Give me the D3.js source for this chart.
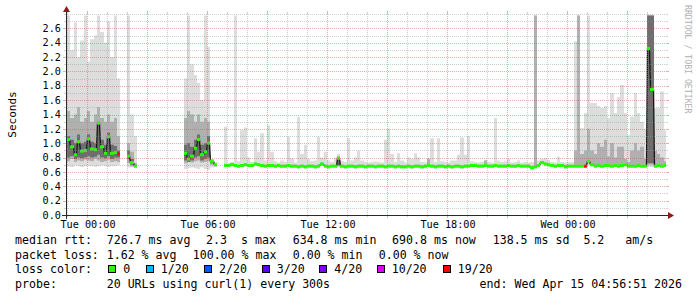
<!DOCTYPE html>
<html><head><meta charset="utf-8">
<script src="https://cdn.jsdelivr.net/npm/d3@7"></script>
<style>
html,body{margin:0;padding:0;background:#fff;}
svg{display:block;}
text{font-family:"DejaVu Sans Mono",monospace;fill:#000;}
</style>
</head><body>
<svg id="c" width="697" height="297"></svg>
<script>
// ---- time buckets: 10-minute steps starting Mon 2026-04-13 23:00 ----
const firstBucket = new Date(2026, 3, 13, 23, 0, 0);
const stepMinutes = 10;
const graphStart = new Date(2026, 3, 13, 22, 56, 51);
const graphEnd = new Date(2026, 3, 15, 4, 56, 51);

// median rtt (seconds), null = no data
const med = [
1.05,0.95,0.84,1.02,0.89,0.90,1.06,0.92,0.91,1.28,
0.95,0.86,1.09,0.86,0.87,0.85,null,null,0.82,0.73,
0.68,null,null,null,null,null,null,null,null,null,
null,null,null,null,null,0.86,0.78,0.82,0.93,1.05,
0.84,0.88,1.00,0.75,0.70,null,null,0.69,0.69,0.70,
0.69,0.68,0.69,0.70,0.69,0.69,0.71,0.70,0.69,0.68,
0.69,0.69,0.68,0.69,0.68,0.68,0.69,0.68,0.68,0.67,
0.68,0.67,0.68,0.68,0.67,0.68,0.71,0.68,0.67,0.68,
0.68,0.79,0.68,0.67,0.68,0.68,0.67,0.68,0.68,0.67,
0.68,0.68,0.67,0.68,0.68,0.67,0.68,0.68,0.67,0.68,
0.67,0.67,0.68,0.67,0.68,0.68,0.67,0.68,0.69,0.68,
0.67,0.68,0.68,0.67,0.68,0.67,0.68,0.68,0.67,0.68,
0.68,0.69,0.69,0.68,0.68,0.69,0.68,0.68,0.69,0.68,
0.68,0.68,0.69,0.68,0.68,0.69,0.68,0.68,0.68,0.66,
0.67,0.69,0.73,0.71,0.70,0.69,0.68,0.69,0.69,0.67,
0.68,0.68,0.68,0.68,0.68,0.68,0.75,0.70,0.68,0.69,
0.68,0.69,0.69,0.68,0.69,0.68,0.69,0.70,0.68,0.68,
0.68,0.69,0.68,0.68,2.32,1.75,0.68,0.69,0.68,0.69];

// lost pings out of 20
const loss = [
0,0,0,0,0,0,0,0,0,0, 0,0,0,0,0,19,0,0,0,0,
0,0,0,0,0,0,0,0,0,0, 0,0,0,0,0,0,0,0,0,0,
0,0,0,0,0,0,0,0,0,0, 0,0,0,0,0,0,0,0,0,0,
0,0,0,0,0,0,0,0,0,0, 0,0,0,0,0,0,0,0,0,0,
0,0,0,0,0,0,0,0,0,0, 0,0,0,0,0,0,0,0,0,0,
0,0,0,0,0,0,0,0,0,0, 0,0,0,0,0,0,0,0,0,0,
0,0,0,0,0,0,0,0,0,0, 0,0,0,0,0,0,0,0,0,0,
0,0,0,0,0,0,0,0,0,0, 0,0,0,0,0,19,0,0,0,0,
0,0,0,0,0,0,0,0,0,0, 0,0,0,0,0,0,0,0,0,0];

// highest ping (outer smoke top)
const hi = [
2.78,2.30,2.68,2.20,2.43,2.78,2.14,2.45,2.50,2.78,
2.55,2.40,2.70,2.20,2.78,1.90,null,null,2.78,1.40,
1.10,null,null,null,null,null,null,null,null,null,
null,null,null,null,null,1.90,2.78,2.10,1.95,1.84,
1.60,2.78,2.34,0.78,0.73,null,null,1.23,0.72,0.74,
2.78,0.75,1.18,1.22,0.80,0.74,1.07,0.88,1.14,0.76,
1.25,0.88,0.75,0.73,0.76,0.74,1.09,0.79,0.73,1.37,
0.85,0.98,0.78,0.75,0.76,1.09,0.80,0.88,0.76,0.74,
0.80,0.85,0.75,0.74,1.07,0.76,0.80,0.90,0.76,0.74,
0.73,0.74,0.75,0.74,0.73,1.05,1.20,0.85,0.74,0.86,
0.76,0.73,0.80,0.78,0.86,0.80,0.74,0.73,0.79,1.07,
0.74,1.07,0.75,0.74,0.73,0.76,0.76,0.84,1.08,0.84,
1.10,0.75,0.74,0.73,0.74,0.77,0.74,0.73,1.35,0.76,
0.74,0.75,0.78,0.73,0.74,0.76,0.73,0.74,0.73,0.74,
2.78,0.76,0.78,0.79,0.77,0.74,0.73,0.81,0.74,0.73,
0.74,0.74,2.42,2.78,1.21,1.42,2.78,1.56,1.56,1.52,
1.49,1.52,1.35,1.70,1.42,1.64,1.81,1.42,1.11,1.37,
1.70,1.42,1.30,1.20,2.78,2.78,1.49,1.49,1.72,1.18];

// upper middle ping
const up = [
1.45,1.35,1.40,1.50,1.30,1.35,1.45,1.30,1.40,1.50,
1.35,1.30,1.40,1.30,1.35,1.10,null,null,1.00,0.88,
0.72,null,null,null,null,null,null,null,null,null,
null,null,null,null,null,1.35,1.45,1.40,1.30,1.40,
1.30,1.35,1.30,0.74,0.71,null,null,0.71,0.71,0.72,
0.71,0.70,0.71,0.72,0.71,0.71,0.73,0.72,0.71,0.70,
0.71,0.71,0.70,0.71,0.70,0.70,0.71,0.70,0.70,0.69,
0.70,0.69,0.70,0.70,0.69,0.70,0.73,0.70,0.69,0.70,
0.70,0.82,0.70,0.69,0.70,0.70,0.69,0.70,0.70,0.69,
0.70,0.70,0.69,0.70,0.70,0.69,0.70,0.70,0.69,0.70,
0.69,0.69,0.70,0.69,0.70,0.70,0.69,0.70,0.78,0.70,
0.69,0.70,0.70,0.69,0.70,0.69,0.70,0.70,0.69,0.70,
0.70,0.71,0.71,0.70,0.70,0.76,0.70,0.70,0.71,0.70,
0.70,0.70,0.71,0.70,0.70,0.71,0.70,0.70,0.70,0.68,
2.78,0.71,0.75,0.73,0.72,0.71,0.70,0.71,0.71,0.70,
0.70,0.70,0.90,2.78,0.85,0.90,1.20,0.90,0.85,1.00,
0.95,1.05,0.82,1.00,0.80,0.95,0.95,0.78,0.74,0.90,
1.00,0.90,0.95,0.78,2.78,2.78,0.90,0.85,0.80,0.75];

// lower middle ping
const dn = [
0.75,0.78,0.74,0.76,0.75,0.77,0.76,0.75,0.78,0.76,
0.74,0.75,0.77,0.74,0.75,0.74,null,null,0.72,0.68,
0.67,null,null,null,null,null,null,null,null,null,
null,null,null,null,null,0.72,0.74,0.73,0.75,0.76,
0.73,0.74,0.75,0.70,0.68,null,null,0.68,0.68,0.69,
0.68,0.67,0.68,0.69,0.68,0.68,0.70,0.69,0.68,0.67,
0.68,0.68,0.67,0.68,0.67,0.67,0.68,0.67,0.67,0.66,
0.67,0.66,0.67,0.67,0.66,0.67,0.70,0.67,0.66,0.67,
0.67,0.70,0.67,0.66,0.67,0.67,0.66,0.67,0.67,0.66,
0.67,0.67,0.66,0.67,0.67,0.66,0.67,0.67,0.66,0.67,
0.66,0.66,0.67,0.66,0.67,0.67,0.66,0.67,0.68,0.67,
0.66,0.67,0.67,0.66,0.67,0.66,0.67,0.67,0.66,0.67,
0.67,0.68,0.68,0.67,0.67,0.68,0.67,0.67,0.68,0.67,
0.67,0.67,0.68,0.67,0.67,0.68,0.67,0.67,0.67,0.65,
0.66,0.68,0.72,0.70,0.69,0.68,0.67,0.68,0.68,0.66,
0.67,0.67,0.67,0.68,0.67,0.67,0.72,0.69,0.67,0.68,
0.67,0.68,0.68,0.67,0.68,0.67,0.68,0.69,0.67,0.67,
0.67,0.68,0.67,0.67,0.70,0.70,0.67,0.68,0.67,0.68];

// lowest ping (outer smoke bottom)
const lo = [
0.68,0.67,0.69,0.68,0.67,0.68,0.69,0.68,0.67,0.68,
0.69,0.68,0.67,0.68,0.68,0.69,null,null,0.66,0.66,
0.66,null,null,null,null,null,null,null,null,null,
null,null,null,null,null,0.64,0.65,0.66,0.65,0.64,
0.66,0.64,0.63,0.66,0.67,null,null,0.67,0.67,0.68,
0.67,0.66,0.67,0.68,0.67,0.67,0.69,0.68,0.67,0.66,
0.67,0.67,0.66,0.67,0.66,0.66,0.67,0.66,0.66,0.65,
0.66,0.65,0.66,0.66,0.65,0.66,0.68,0.66,0.65,0.66,
0.66,0.67,0.66,0.65,0.66,0.66,0.65,0.66,0.66,0.65,
0.66,0.66,0.65,0.66,0.66,0.65,0.66,0.66,0.65,0.66,
0.65,0.65,0.66,0.65,0.66,0.66,0.65,0.66,0.67,0.66,
0.65,0.66,0.66,0.65,0.66,0.65,0.66,0.66,0.65,0.66,
0.66,0.67,0.67,0.66,0.66,0.67,0.66,0.66,0.67,0.66,
0.66,0.66,0.67,0.66,0.66,0.67,0.66,0.66,0.66,0.64,
0.65,0.67,0.70,0.69,0.68,0.67,0.66,0.67,0.67,0.65,
0.66,0.66,0.66,0.67,0.66,0.66,0.70,0.68,0.66,0.67,
0.66,0.67,0.67,0.66,0.67,0.66,0.67,0.68,0.66,0.66,
0.66,0.67,0.66,0.66,0.67,0.67,0.66,0.67,0.66,0.67];

// inner (dark) smoke around the median
const inHi = [
1.10,1.05,1.00,1.12,1.00,1.02,1.12,1.02,1.00,1.30,
1.05,0.98,1.15,0.98,0.96,0.90,null,null,0.90,0.78,
0.70,null,null,null,null,null,null,null,null,null,
null,null,null,null,null,0.98,1.00,0.95,1.05,1.12,
0.98,1.00,1.10,0.76,0.71,null,null,null,null,null,
null,null,null,null,null,null,null,null,null,null,
null,null,null,null,null,null,null,null,null,null,
null,null,null,null,null,null,null,null,null,null,
null,0.80,null,null,null,null,null,null,null,null,
null,null,null,null,null,null,null,null,null,null,
null,null,null,null,null,null,null,null,null,null,
null,null,null,null,null,null,null,null,null,null,
null,null,null,null,null,null,null,null,null,null,
null,null,null,null,null,null,null,null,null,null,
null,null,null,null,null,null,null,null,null,null,
null,null,null,null,null,null,null,null,null,null,
null,null,null,null,null,null,null,null,null,null,
null,null,null,null,2.78,2.78,null,null,null,null];
const inLo = [
0.80,0.82,0.78,0.80,0.79,0.80,0.82,0.80,0.81,0.84,
0.80,0.79,0.82,0.78,0.80,0.80,null,null,0.78,0.70,
0.67,null,null,null,null,null,null,null,null,null,
null,null,null,null,null,0.76,0.74,0.76,0.80,0.82,
0.76,0.78,0.80,0.72,0.69,null,null,null,null,null,
null,null,null,null,null,null,null,null,null,null,
null,null,null,null,null,null,null,null,null,null,
null,null,null,null,null,null,null,null,null,null,
null,0.69,null,null,null,null,null,null,null,null,
null,null,null,null,null,null,null,null,null,null,
null,null,null,null,null,null,null,null,null,null,
null,null,null,null,null,null,null,null,null,null,
null,null,null,null,null,null,null,null,null,null,
null,null,null,null,null,null,null,null,null,null,
null,null,null,null,null,null,null,null,null,null,
null,null,null,null,null,null,null,null,null,null,
null,null,null,null,null,null,null,null,null,null,
null,null,null,null,0.72,0.72,null,null,null,null];

const yTicks = [0.0,0.2,0.4,0.6,0.8,1.0,1.2,1.4,1.6,1.8,2.0,2.2,2.4,2.6];
const lossLevels = ["0","1/20","2/20","3/20","4/20","10/20","19/20"];
const lossValues = [0,1,2,3,4,10,19];
const lossColors = ["#26ff00","#00b8ff","#0059ff","#5e00ff","#7e00ff","#dd00ff","#ff0000"];

const statsRtt = ["median rtt:","726.7 ms avg","2.3  s max","634.8 ms min","690.8 ms now","138.5 ms sd","5.2   am/s"];
const statsLoss = ["packet loss:","1.62 % avg","100.00 % max","0.00 % min","0.00 % now"];
const probeText = ["probe:","20 URLs using curl(1) every 300s"];
const endText = "end: Wed Apr 15 04:56:51 2026";

// ---- layout ----
const X0 = 66, X1 = 666, Y0 = 215, Y1 = 14;
const svg = d3.select("#c");
const x = d3.scaleTime().domain([graphStart, graphEnd]).range([X0, X1]);
const y = d3.scaleLinear().domain([0, 2.8]).range([Y0, Y1]);
const N = med.length;
const bStart = i => d3.timeMinute.offset(firstBucket, i * stepMinutes);
const bx = i => Math.round(x(bStart(i)));

svg.append("defs").append("clipPath").attr("id", "clip")
  .append("rect").attr("x", X0).attr("y", Y1 - 1).attr("width", X1 - X0).attr("height", Y0 - Y1 + 1);

const plot = svg.append("g").attr("clip-path", "url(#clip)");

function band(lowArr, highArr, color) {
  const pts = [];
  for (let i = 0; i < N; i++) {
    const ok = lowArr[i] != null && highArr[i] != null;
    pts.push({xp: bx(i), lo: lowArr[i], hi: highArr[i], ok});
    pts.push({xp: bx(i + 1), lo: lowArr[i], hi: highArr[i], ok});
  }
  const area = d3.area().defined(d => d.ok)
    .x(d => d.xp).y0(d => y(d.lo)).y1(d => y(d.hi));
  plot.append("path").attr("d", area(pts)).attr("fill", color);
}
band(lo, hi, "#dddddd");
band(dn, up, "#b0b0b0");
band(inLo, inHi, "#6e6e6e");

// dark step line through medians
const mpts = [];
for (let i = 0; i < N; i++) {
  mpts.push({xp: bx(i) + 0.5, v: med[i]});
  mpts.push({xp: bx(i + 1) - 0.5, v: med[i]});
}
plot.append("path")
  .attr("d", d3.line().defined(d => d.v != null).x(d => d.xp).y(d => y(d.v))(mpts))
  .attr("fill", "none").attr("stroke", "#151515").attr("stroke-width", 1.3);

// median markers coloured by loss
const colorFor = l => { let c = lossColors[0]; lossValues.forEach((v, k) => { if (l >= v) c = lossColors[k]; }); return c; };
plot.append("g").selectAll("rect")
  .data(d3.range(N).filter(i => med[i] != null)).join("rect")
  .attr("x", i => bx(i)).attr("width", i => bx(i + 1) - bx(i))
  .attr("y", i => y(med[i]) - 1.5).attr("height", 3)
  .attr("fill", i => colorFor(loss[i]));

// ---- grid (drawn over the data, like rrdtool) ----
const grid = svg.append("g");
const minorCol = "rgba(150,150,150,0.45)", majorCol = "rgba(210,70,70,0.45)";
const hours = x.ticks(d3.timeHour.every(1));
hours.forEach(t => {
  const xp = Math.round(x(t)) + 0.5;
  if (xp <= X0 + 0.5 || xp > X1) return;
  const major = t.getHours() % 3 === 0;
  const col = major ? majorCol : minorCol, ext = major ? 3 : 2;
  grid.append("line").attr("x1", xp).attr("x2", xp).attr("y1", Y0).attr("y2", Y1)
    .attr("stroke", col).attr("stroke-dasharray", "1,1");
  grid.append("line").attr("x1", xp).attr("x2", xp).attr("y1", Y0).attr("y2", Y0 + ext).attr("stroke", col);
  grid.append("line").attr("x1", xp).attr("x2", xp).attr("y1", Y1).attr("y2", Y1 - ext).attr("stroke", col);
});
d3.range(1, 29).forEach(k => {
  const v = k / 10;
  const yp = Math.round(y(v)) + 0.5;
  const major = k % 2 === 0 && k < 28;
  const col = major ? majorCol : minorCol, ext = major ? 3 : 2;
  grid.append("line").attr("x1", X0).attr("x2", X1).attr("y1", yp).attr("y2", yp)
    .attr("stroke", col).attr("stroke-dasharray", "1,1");
  grid.append("line").attr("x1", X0 - ext).attr("x2", X0).attr("y1", yp).attr("y2", yp).attr("stroke", col);
  grid.append("line").attr("x1", X1).attr("x2", X1 + ext).attr("y1", yp).attr("y2", yp).attr("stroke", col);
});

// ---- axes ----
const axisCol = "#2a2a2a", arrowCol = "#8e1a1a";
svg.append("line").attr("x1", X0 - 4).attr("x2", X1 + 4).attr("y1", Y0 + 0.5).attr("y2", Y0 + 0.5).attr("stroke", axisCol);
svg.append("line").attr("x1", X0 + 0.5).attr("x2", X0 + 0.5).attr("y1", Y0 + 4).attr("y2", Y1 - 4).attr("stroke", axisCol);
svg.append("path").attr("d", `M${X1 + 2},${Y0 - 3}L${X1 + 2},${Y0 + 4}L${X1 + 8},${Y0 + 0.5}Z`).attr("fill", arrowCol);
svg.append("path").attr("d", `M${X0 - 3},${Y1 - 2}L${X0 + 4},${Y1 - 2}L${X0 + 0.5},${Y1 - 8}Z`).attr("fill", arrowCol);

// y labels
svg.append("g").selectAll("text").data(yTicks).join("text")
  .attr("x", X0 - 5).attr("y", d => y(d) + 3.7)
  .attr("text-anchor", "end").style("font-size", "10.2px")
  .text(d => d3.format(".1f")(d));

// x labels
const fmt = d3.timeFormat("%a %H:%M");
svg.append("g").selectAll("text").data(x.ticks(d3.timeHour.every(6))).join("text")
  .attr("x", d => x(d) + 1).attr("y", 228)
  .attr("text-anchor", "middle").style("font-size", "10.2px")
  .text(d => fmt(d));

svg.append("text").attr("transform", "translate(15.5,114.5) rotate(-90)")
  .attr("text-anchor", "middle").style("font-size", "11px").text("Seconds");

svg.append("text").attr("transform", "translate(685,5) rotate(90)")
  .style("font-size", "8.2px").style("fill", "#b0b0b0").text("RRDTOOL / TOBI OETIKER");

// ---- legend ----
const lf = "11.6px";
const rttX = [15.1, 106.7, 206.1, 292.7, 392.1, 492.7, 583.4];
const lossX = [15.1, 106.7, 192.7, 292.7, 378.7];
const rows = [244.3, 259, 273.3, 287.7];
statsRtt.forEach((s, k) => svg.append("text").attr("x", rttX[k]).attr("y", rows[0]).style("font-size", lf).style("white-space", "pre").text(s));
statsLoss.forEach((s, k) => svg.append("text").attr("x", lossX[k]).attr("y", rows[1]).style("font-size", lf).style("white-space", "pre").text(s));
svg.append("text").attr("x", 15.1).attr("y", rows[2]).style("font-size", lf).text("loss color:");
const swX = [108.3, 145.7, 204, 261.7, 319.3, 376.7, 442.7];
lossLevels.forEach((s, k) => {
  svg.append("rect").attr("x", Math.round(swX[k]) + 0.5).attr("y", 265.5).attr("width", 7).attr("height", 7)
    .attr("fill", lossColors[k]).attr("stroke", "#000");
  svg.append("text").attr("x", swX[k] + 15).attr("y", rows[2]).style("font-size", lf).text(s);
});
svg.append("text").attr("x", 15.1).attr("y", rows[3]).style("font-size", lf).text(probeText[0]);
svg.append("text").attr("x", 106.7).attr("y", rows[3]).style("font-size", lf).text(probeText[1]);
svg.append("text").attr("x", 682).attr("y", rows[3]).attr("text-anchor", "end").style("font-size", lf).text(endText);
</script>
</body></html>
